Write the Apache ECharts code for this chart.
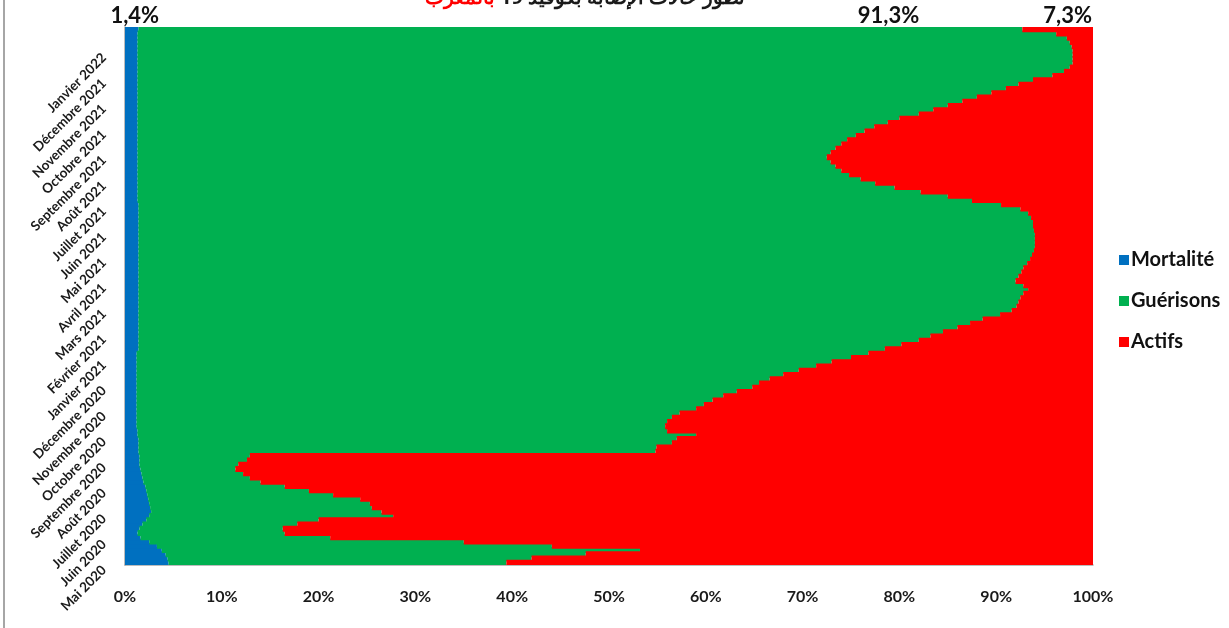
<!DOCTYPE html>
<html>
<head>
<meta charset="utf-8">
<script src="https://cdn.jsdelivr.net/npm/echarts@6/dist/echarts.min.js"></script>
<style>
html,body{margin:0;padding:0;background:#fff;}
#chart{width:1229px;height:628px;}
</style>
</head>
<body>
<div id="chart"></div>
<script>
// Month tick labels (one per month, 6 rows per month)
const monthLabels = ["Mai 2020","Juin 2020","Juillet 2020","Août 2020","Septembre 2020","Octobre 2020","Novembre 2020","Décembre 2020","Janvier 2021","Février 2021","Mars 2021","Avril 2021","Mai 2021","Juin 2021","Juillet 2021","Août 2021","Septembre 2021","Octobre 2021","Novembre 2021","Décembre 2021","Janvier 2022"];
const rowDays = [1, 6, 11, 16, 21, 26];

// Shares (%) per row, bottom (May 2020) to top (Jan 2022)
const mortalite = [
4.5,4.4,4.2,3.8,3.3,2.5,1.6,1.3,1.5,1.8,
2.2,2.5,2.7,2.6,2.5,2.4,2.3,2.2,2.1,1.9,
1.8,1.7,1.6,1.5,1.5,1.5,1.4,1.4,1.4,1.4,
1.3,1.3,1.2,1.2,1.2,1.2,1.2,1.2,1.2,1.2,
1.2,1.2,1.2,1.2,1.2,1.2,1.2,1.2,1.2,1.2,
1.4,1.4,1.4,1.4,1.4,1.4,1.4,1.4,1.4,1.4,
1.4,1.4,1.4,1.4,1.4,1.4,1.4,1.4,1.4,1.4,
1.4,1.4,1.4,1.4,1.4,1.4,1.4,1.4,1.4,1.4,
1.4,1.4,1.4,1.4,1.4,1.3,1.3,1.3,1.3,1.3,
1.3,1.3,1.3,1.3,1.3,1.3,1.3,1.3,1.3,1.3,
1.3,1.3,1.3,1.3,1.3,1.3,1.3,1.3,1.3,1.3,
1.3,1.3,1.3,1.3,1.3,1.3,1.3,1.3,1.3,1.3,
1.3,1.3,1.3,1.3,1.3,1.4];

const guerisons = [
34.9,37.6,43.4,49.4,40.8,32.5,19.6,15.2,14.8,16.0,
17.8,25.2,23.8,22.9,22.8,21.9,19.2,16.8,14.4,12.1,
11.1,10.5,9.8,10.2,11.1,11.4,53.4,53.5,55.1,55.6,
57.7,54.7,54.6,54.8,55.3,56.1,57.8,58.6,59.5,60.6,
62.0,63.6,64.3,65.4,66.8,68.4,70.2,71.8,73.8,75.6,
77.1,78.8,80.6,81.8,83.1,84.6,85.9,87.2,89.0,90.2,
90.7,90.9,91.1,91.4,91.9,91.4,90.6,90.9,91.2,91.4,
91.8,92.1,92.3,92.5,92.6,92.6,92.6,92.6,92.5,92.4,
92.4,92.2,91.9,91.1,89.1,86.2,83.7,80.9,78.2,76.2,
74.7,73.5,72.7,72.1,71.6,71.2,71.6,72.1,72.7,73.3,
74.2,75.1,76.1,77.5,78.7,80.7,82.2,83.7,85.2,86.7,
88.2,89.7,91.0,92.5,94.5,95.7,96.3,96.6,96.6,96.6,
96.6,96.5,96.3,96.0,94.9,91.3];

const actifs = [
60.6,58.0,52.4,46.8,55.9,65.0,78.8,83.5,83.7,82.2,
80.0,72.3,73.5,74.5,74.7,75.7,78.5,81.0,83.5,86.0,
87.1,87.8,88.6,88.3,87.4,87.1,45.2,45.1,43.5,43.0,
41.0,44.0,44.2,44.0,43.5,42.7,41.0,40.2,39.3,38.2,
36.8,35.2,34.5,33.4,32.0,30.4,28.6,27.0,25.0,23.2,
21.5,19.8,18.0,16.8,15.5,14.0,12.7,11.4,9.6,8.4,
7.9,7.7,7.5,7.2,6.7,7.2,8.0,7.7,7.4,7.2,
6.8,6.5,6.3,6.1,6.0,6.0,6.0,6.0,6.1,6.2,
6.2,6.4,6.7,7.5,9.5,12.5,15.0,17.8,20.5,22.5,
24.0,25.2,26.0,26.6,27.1,27.5,27.1,26.6,26.0,25.4,
24.5,23.6,22.6,21.2,20.0,18.0,16.5,15.0,13.5,12.0,
10.5,9.0,7.7,6.2,4.2,3.0,2.4,2.1,2.1,2.1,
2.1,2.2,2.4,2.7,3.8,7.3];

const seriesNames = ["Mortalité", "Guérisons", "Actifs"];
const seriesColors = ["#0070C0", "#00B050", "#FF0000"];
const xTicks = [0,10,20,30,40,50,60,70,80,90,100];

// Categories: dates (6 rows per month)
const categories = [];
monthLabels.forEach((lbl, m) => {
  const yr = 2020 + Math.floor((4 + m) / 12);
  const mo = (4 + m) % 12 + 1;
  rowDays.forEach(d => categories.push(String(d).padStart(2,'0') + '/' + String(mo).padStart(2,'0') + '/' + yr));
});

const FONT = 'Lato';
const fmt = v => v.toFixed(1).replace('.', ',') + '%';
const lastLabelOffsets = [[3, 0], [308, 0], [10, 0]];

function buildData(arr, k) {
  return arr.map((v, i) => {
    if (i !== arr.length - 1) return v;
    return {
      value: v,
      label: {
        show: true, position: 'top', distance: 0,
        offset: lastLabelOffsets[k],
        formatter: p => fmt(p.value),
        color: '#111', fontFamily: FONT, fontSize: 22, fontWeight: 'bold'
      }
    };
  });
}

const chart = echarts.init(document.getElementById('chart'), null, {renderer: 'canvas'});
const option = {
  animation: false,
  backgroundColor: '#fff',
  title: {
    text: '{r|بالمغرب} {b|تطور حالات الإصابة بكوفيد 19}',
    left: 420, top: -17,
    textStyle: {
      rich: {
        r: {color: '#ff0000', fontSize: 20, fontFamily: 'Noto Sans', fontWeight: 'bold'},
        b: {color: '#1a1a1a', fontSize: 20, fontFamily: 'Noto Sans', fontWeight: 'bold'}
      }
    }
  },
  graphic: [{
    type: 'line', shape: {x1: 4, y1: 0, x2: 4, y2: 628},
    style: {stroke: '#a6a6a6', lineWidth: 2}
  }],
  legend: {
    orient: 'vertical', left: 1114, top: 245,
    itemWidth: 10, itemHeight: 10, itemGap: 21, icon: 'rect',
    data: seriesNames,
    textStyle: {color: '#111', fontFamily: FONT, fontSize: 20, fontWeight: 'bold', padding: [0,0,0,-3]}
  },
  grid: {left: 125, right: 136, top: 27, bottom: 63, containLabel: false},
  xAxis: {
    type: 'value', min: xTicks[0], max: xTicks[xTicks.length-1], interval: 10,
    axisLine: {show: true, lineStyle: {color: '#a6a6a6', width: 1.5}},
    axisTick: {show: false},
    splitLine: {show: false},
    axisLabel: {
      formatter: v => v + '%', margin: 24,
      color: '#1a1a1a', fontFamily: FONT, fontSize: 16, fontWeight: 'bold'
    }
  },
  yAxis: {
    type: 'category', data: categories,
    axisLine: {show: true, lineStyle: {color: '#a6a6a6', width: 1.5}},
    axisTick: {show: false},
    splitLine: {show: false},
    axisLabel: {
      interval: (i) => i % rowDays.length === 0,
      formatter: (v, i) => monthLabels[Math.floor(i / rowDays.length)],
      rotate: 45, margin: 26, verticalAlign: 'top',
      color: '#1a1a1a', fontFamily: FONT, fontSize: 13.5, fontWeight: 'bold'
    }
  },
  series: [mortalite, guerisons, actifs].map((arr, k) => ({
    name: seriesNames[k],
    type: 'bar',
    stack: 'total',
    barWidth: 6,
    barGap: '-100%',
    itemStyle: {color: seriesColors[k]},
    emphasis: {disabled: true},
    data: buildData(arr, k)
  }))
};
chart.setOption(option);
</script>
</body>
</html>
